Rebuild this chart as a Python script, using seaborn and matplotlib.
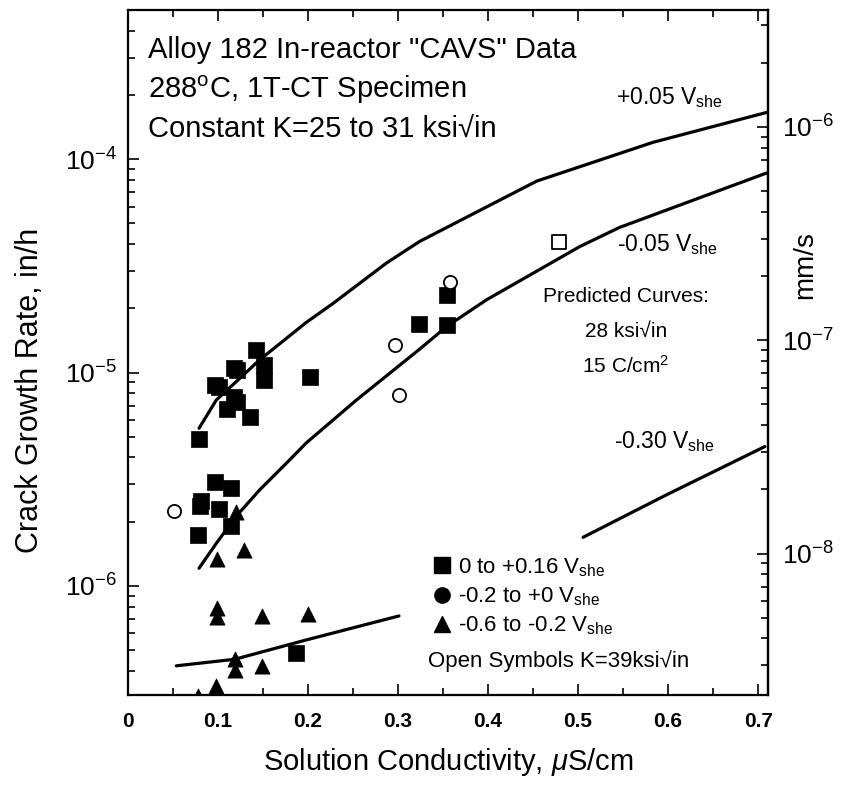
import numpy as np
import pandas as pd
import matplotlib
matplotlib.use("Agg")
import matplotlib.pyplot as plt
import matplotlib.ticker as mticker
from matplotlib.lines import Line2D
import seaborn as sns

sns.set_style("ticks")
plt.rcParams['font.family'] = ['Liberation Sans', 'DejaVu Sans']
plt.rcParams['mathtext.fontset'] = 'custom'
plt.rcParams['mathtext.rm'] = 'Liberation Sans'
plt.rcParams['mathtext.it'] = 'Liberation Sans:italic'
plt.rcParams['mathtext.bf'] = 'Liberation Sans:bold'
for k in ['text.color', 'axes.labelcolor', 'xtick.color', 'ytick.color', 'axes.edgecolor']:
    plt.rcParams[k] = 'black'

# in/h -> mm/s
IN_H_TO_MM_S = 25.4 / 3600.0

# filled squares, 0 to +0.16 Vshe
sq_x = [0.0792, 0.0963, 0.101, 0.110, 0.1174, 0.121, 0.118, 0.121, 0.136, 0.1426,
        0.1508, 0.1508, 0.2019, 0.0963, 0.1149, 0.0815, 0.0797, 0.101, 0.114,
        0.0778, 0.187, 0.3234, 0.354, 0.354]
sq_y = [4.88e-6, 8.75e-6, 8.6e-6, 6.73e-6, 1.05e-5, 1.03e-5, 7.67e-6, 7.31e-6, 6.22e-6, 1.27e-5,
        1.09e-5, 9.25e-6, 9.58e-6, 3.08e-6, 2.87e-6, 2.51e-6, 2.37e-6, 2.29e-6, 1.90e-6,
        1.73e-6, 4.86e-7, 1.69e-5, 1.68e-5, 2.30e-5]

# filled triangles, -0.6 to -0.2 Vshe
tri_x = [0.1197, 0.129, 0.099, 0.099, 0.099, 0.149, 0.200, 0.119, 0.119, 0.149, 0.098, 0.078]
tri_y = [2.21e-6, 1.48e-6, 1.33e-6, 7.85e-7, 7.13e-7, 7.23e-7, 7.38e-7, 4.53e-7, 4.04e-7,
         4.22e-7, 3.40e-7, 3.05e-7]

# open symbols, K=39 ksi sqrt(in)
open_circ_x = [0.0508, 0.297, 0.301, 0.358]
open_circ_y = [2.25e-6, 1.34e-5, 7.86e-6, 2.67e-5]
open_sq_x = [0.479]
open_sq_y = [4.10e-5]

# predicted curves
curve_p005_x = [0.0789, 0.0982, 0.1204, 0.1463, 0.198, 0.2278, 0.287, 0.324, 0.4056, 0.454, 0.583, 0.709]
curve_p005_y = [5.48e-6, 7.45e-6, 9.08e-6, 1.148e-5, 1.718e-5, 2.11e-5, 3.26e-5, 4.12e-5, 6.2e-5,
                7.90e-5, 1.20e-4, 1.656e-4]
curve_m005_x = [0.0789, 0.0982, 0.1197, 0.1463, 0.1797, 0.198, 0.254, 0.324, 0.354, 0.398, 0.502,
                0.546, 0.709]
curve_m005_y = [1.21e-6, 1.585e-6, 2.11e-6, 2.82e-6, 3.90e-6, 4.68e-6, 7.45e-6, 1.288e-5, 1.644e-5,
                2.19e-5, 3.90e-5, 4.79e-5, 8.61e-5]
curve_m030a_x = [0.0537, 0.1186, 0.198, 0.301]
curve_m030a_y = [4.22e-7, 4.53e-7, 5.58e-7, 7.23e-7]
curve_m030b_x = [0.5056, 0.598, 0.7075]
curve_m030b_y = [1.69e-6, 2.67e-6, 4.50e-6]

fig = plt.figure(figsize=(8.41, 7.85), dpi=100)
ax = fig.add_axes([128 / 841, 1 - 695 / 785, (768 - 128) / 841, (695 - 10) / 785])

line_kw = dict(color='black', linewidth=2.3, estimator=None, sort=False, legend=False)
for cx, cy in [(curve_p005_x, curve_p005_y), (curve_m005_x, curve_m005_y),
               (curve_m030a_x, curve_m030a_y), (curve_m030b_x, curve_m030b_y)]:
    sns.lineplot(x=cx, y=cy, ax=ax, **line_kw)

sns.scatterplot(x=sq_x, y=sq_y, ax=ax, marker='s', s=120, color='black', edgecolor='black',
                linewidth=0.5, legend=False, zorder=3)
sns.scatterplot(x=tri_x, y=tri_y, ax=ax, marker='^', s=120, color='black', edgecolor='black',
                linewidth=0.5, legend=False, zorder=3)
sns.scatterplot(x=open_circ_x, y=open_circ_y, ax=ax, marker='o', s=90, facecolor='white',
                edgecolor='black', linewidth=1.3, legend=False, zorder=3)
sns.scatterplot(x=open_sq_x, y=open_sq_y, ax=ax, marker='s', s=90, facecolor='white',
                edgecolor='black', linewidth=1.3, legend=False, zorder=3)

ax.set_yscale('log')
ax.set_xlim(0, 0.711)
ax.set_ylim(3.08e-7, 5.01e-4)

ax.xaxis.set_major_locator(mticker.MultipleLocator(0.1))
ax.xaxis.set_minor_locator(mticker.MultipleLocator(0.05))
ax.xaxis.set_major_formatter(mticker.FuncFormatter(lambda v, p: '0' if abs(v) < 1e-9 else f'{v:.1f}'))
ax.yaxis.set_major_locator(mticker.FixedLocator([1e-6, 1e-5, 1e-4]))
ax.yaxis.set_minor_locator(mticker.LogLocator(base=10, subs=np.arange(2, 10)))
ax.yaxis.set_minor_formatter(mticker.NullFormatter())

ax.tick_params(which='both', direction='in', top=True, right=False, width=1.2)
ax.tick_params(which='major', length=8)
ax.tick_params(which='minor', length=5)
ax.tick_params(axis='x', which='major', labelsize=15, pad=12)
ax.tick_params(axis='y', which='major', labelsize=19, pad=8)
for lab in ax.get_xticklabels():
    lab.set_fontweight('bold')
for sp in ax.spines.values():
    sp.set_linewidth(1.6)

sec = ax.secondary_yaxis('right', functions=(lambda y: y * IN_H_TO_MM_S, lambda y: y / IN_H_TO_MM_S))
sec.yaxis.set_major_locator(mticker.FixedLocator([1e-8, 1e-7, 1e-6]))
sec.yaxis.set_major_formatter(mticker.LogFormatterSciNotation())
sec.yaxis.set_minor_locator(mticker.LogLocator(base=10, subs=np.arange(2, 10)))
sec.yaxis.set_minor_formatter(mticker.NullFormatter())
sec.tick_params(which='both', direction='in', width=1.2)
sec.tick_params(which='major', length=8, labelsize=19, pad=10)
sec.tick_params(which='minor', length=5)
sec.spines['right'].set_linewidth(1.6)
fig.text(805 / 841, 1 - 265 / 785, 'mm/s', rotation=90, fontsize=20, ha='center', va='center')

ax.set_xlabel(r'Solution Conductivity, $\mu$S/cm', fontsize=21, labelpad=11)
ax.set_ylabel('Crack Growth Rate, in/h', fontsize=22, va='center')
ax.yaxis.set_label_coords(-0.153, 0.445)

# header text
hdr = ['Alloy 182 In-reactor "CAVS" Data',
       r'288$^{\rm o}$C, 1T-CT Specimen',
       'Constant K=25 to 31 ksi\u221ain']
for i, t in enumerate(hdr):
    ax.text(0.031, 0.9415 - i * 0.0575, t, transform=ax.transAxes, fontsize=21, va='center', ha='left')

# curve labels
ax.text(0.762, 0.872, r'+0.05 V$_{\rm she}$', transform=ax.transAxes, fontsize=16.5, va='center')
ax.text(0.764, 0.658, r'-0.05 V$_{\rm she}$', transform=ax.transAxes, fontsize=16.5, va='center')
ax.text(0.76, 0.37, r'-0.30 V$_{\rm she}$', transform=ax.transAxes, fontsize=16.5, va='center')
ax.text(0.778, 0.582, 'Predicted Curves:', transform=ax.transAxes, fontsize=15, ha='center', va='center')
ax.text(0.778, 0.531, '28 ksi\u221ain', transform=ax.transAxes, fontsize=15, ha='center', va='center')
ax.text(0.778, 0.480, r'15 C/cm$^2$', transform=ax.transAxes, fontsize=15, ha='center', va='center')

# symbol legend
handles = [Line2D([], [], marker='s', color='black', linestyle='', markersize=11),
           Line2D([], [], marker='o', color='black', linestyle='', markersize=11),
           Line2D([], [], marker='^', color='black', linestyle='', markersize=11)]
labels = [r'0 to +0.16 V$_{\rm she}$', r'-0.2 to +0 V$_{\rm she}$', r'-0.6 to -0.2 V$_{\rm she}$']
leg = ax.legend(handles, labels, loc='lower left', bbox_to_anchor=(0.46, 0.068), frameon=False,
                fontsize=16, handlelength=0.8, handletextpad=0.3, labelspacing=0.3, borderpad=0)
ax.text(0.469, 0.05, 'Open Symbols K=39ksi\u221ain', transform=ax.transAxes, fontsize=16,
        ha='left', va='center')

fig.savefig('out.png', dpi=100)
